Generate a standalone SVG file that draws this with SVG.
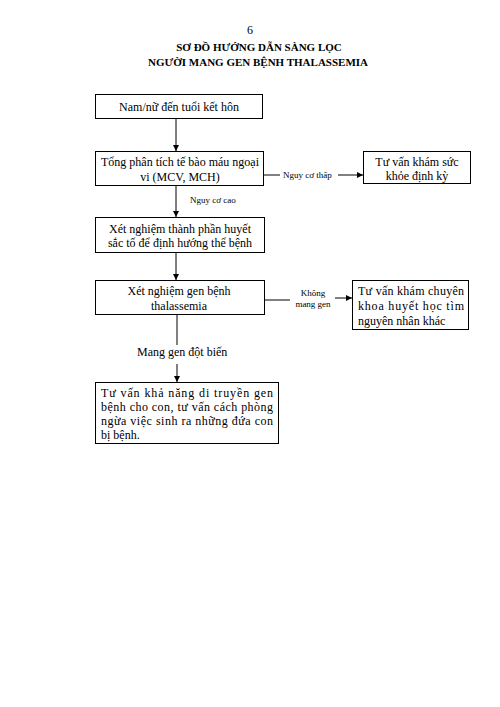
<svg xmlns="http://www.w3.org/2000/svg" width="500" height="707" viewBox="0 0 500 707">
<style>
.bg{fill:#fff}
.box{fill:#fff;stroke:#000;stroke-width:1}
.t{font-family:"Liberation Serif","Times New Roman",serif;font-size:12px;fill:#000}
.c{text-anchor:middle}
.s{font-family:"Liberation Serif","Times New Roman",serif;font-size:9px;fill:#000}
.h{font-family:"Liberation Serif","Times New Roman",serif;font-size:11px;font-weight:bold;fill:#000;text-anchor:middle}
.ln{stroke:#000;stroke-width:1;fill:none}
</style>
<defs>
<marker id="ar" viewBox="0 0 6 6" refX="6" refY="3" markerWidth="6" markerHeight="6" orient="auto" markerUnits="userSpaceOnUse">
<path d="M0,0 L6,3 L0,6 z" fill="#000"/>
</marker>
</defs>
<rect class="bg" x="0" y="0" width="500" height="707"/>
<g id="title">
<text class="t c" x="250" y="34">6</text>
<text class="h" x="259" y="51">SƠ ĐỒ HƯỚNG DẪN SÀNG LỌC</text>
<text class="h" x="258" y="66">NGƯỜI MANG GEN BỆNH THALASSEMIA</text>
</g>
<g id="connectors">
<line class="ln" x1="176" y1="118" x2="176" y2="151" marker-end="url(#ar)"/>
<line class="ln" x1="263" y1="175" x2="280" y2="175"/>
<line class="ln" x1="338" y1="175" x2="363" y2="175" marker-end="url(#ar)"/>
<text class="s" x="283" y="178">Nguy cơ thấp</text>
<line class="ln" x1="176" y1="186" x2="176" y2="217" marker-end="url(#ar)"/>
<text class="s" x="190" y="203">Nguy cơ cao</text>
<line class="ln" x1="176" y1="252" x2="176" y2="280" marker-end="url(#ar)"/>
<line class="ln" x1="264" y1="300" x2="290" y2="300"/>
<text class="s c" x="313" y="296">Không</text>
<text class="s c" x="313" y="307">mang gen</text>
<line class="ln" x1="335" y1="298" x2="352" y2="298" marker-end="url(#ar)"/>
<line class="ln" x1="177" y1="315" x2="177" y2="345"/>
<text class="t" x="137" y="356">Mang gen đột biến</text>
<line class="ln" x1="177" y1="364" x2="177" y2="382" marker-end="url(#ar)"/>
</g>
<g id="n1">
<rect class="box" x="95.5" y="94.5" width="167" height="24"/>
<text class="t c" x="179" y="111">Nam/nữ đến tuổi kết hôn</text>
</g>
<g id="n2">
<rect class="box" x="95.5" y="151.5" width="168" height="34"/>
<text class="t c" x="180" y="166">Tổng phân tích tế bào máu ngoại</text>
<text class="t c" x="180" y="181">vi (MCV, MCH)</text>
</g>
<g id="n3">
<rect class="box" x="363.5" y="151.5" width="107" height="32"/>
<text class="t c" x="417" y="166">Tư vấn khám sức</text>
<text class="t c" x="417" y="180">khỏe định kỳ</text>
</g>
<g id="n4">
<rect class="box" x="95.5" y="217.5" width="169" height="35"/>
<text class="t c" x="180" y="233">Xét nghiệm thành phần huyết</text>
<text class="t c" x="180" y="247">sắc tố để định hướng thể bệnh</text>
</g>
<g id="n5">
<rect class="box" x="95.5" y="280.5" width="169" height="34"/>
<text class="t c" x="179" y="295">Xét nghiệm gen bệnh</text>
<text class="t c" x="179" y="310">thalassemia</text>
</g>
<g id="n6">
<rect class="box" x="352.5" y="280.5" width="116" height="49"/>
<text class="t" x="358" y="295" textLength="106" lengthAdjust="spacing">Tư vấn khám chuyên</text>
<text class="t" x="358" y="310" textLength="106" lengthAdjust="spacing">khoa huyết học tìm</text>
<text class="t" x="358" y="325">nguyên nhân khác</text>
</g>
<g id="n7">
<rect class="box" x="95.5" y="382.5" width="183" height="61"/>
<text class="t" x="101" y="397" textLength="172" lengthAdjust="spacing">Tư vấn khả năng  di truyền gen</text>
<text class="t" x="101" y="411" textLength="172" lengthAdjust="spacing">bệnh cho con, tư vấn cách phòng</text>
<text class="t" x="101" y="425" textLength="172" lengthAdjust="spacing">ngừa việc sinh ra những đứa con</text>
<text class="t" x="101" y="439">bị bệnh.</text>
</g>
</svg>
